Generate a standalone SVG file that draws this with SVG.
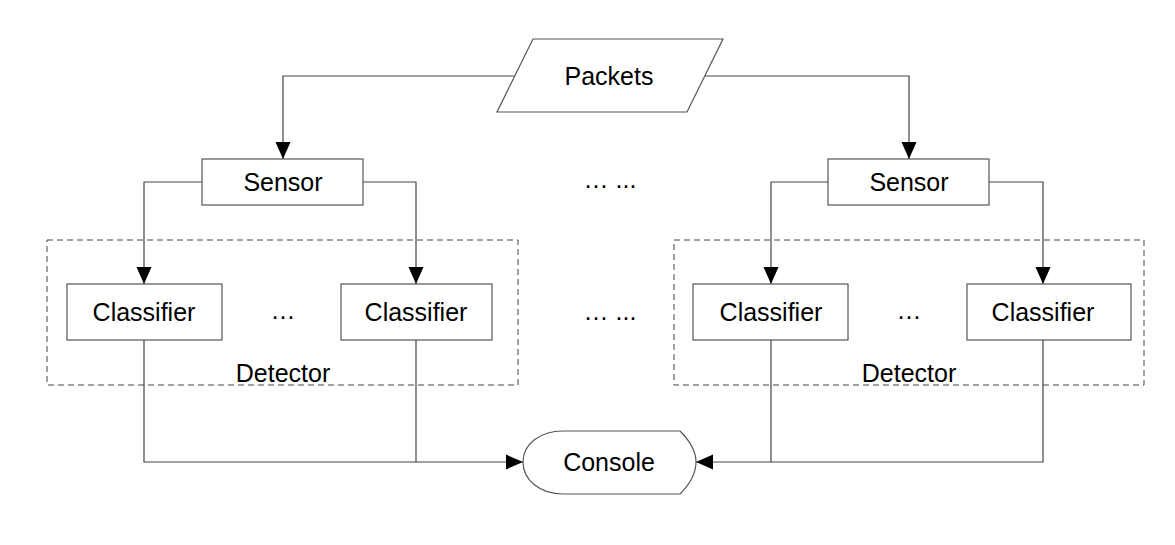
<svg xmlns="http://www.w3.org/2000/svg" width="1175" height="545" viewBox="0 0 1175 545">
<style>
.n{fill:#fff;stroke:#555;stroke-width:1.2}
.t{font-family:"Liberation Sans",Arial,sans-serif;font-size:25px;fill:#000;text-anchor:middle}
.c{fill:none;stroke:#444;stroke-width:1.2}
.d{fill:none;stroke:#444;stroke-width:1;stroke-dasharray:6 4}
</style>
<defs>
<marker id="ah" markerWidth="17" markerHeight="16" refX="17" refY="8" orient="auto" markerUnits="userSpaceOnUse">
<path d="M0,0.5 L17,8 L0,15.5 Z" fill="#000"/>
</marker>
</defs>
<rect width="1175" height="545" fill="#fff"/>
<g id="detector-left"><rect class="d" x="47" y="240" width="471" height="145"/><text class="t" x="283" y="382">Detector</text></g>
<g id="detector-right"><rect class="d" x="674" y="240" width="470" height="145"/><text class="t" x="909" y="382">Detector</text></g>
<g id="connectors">
<path class="c" d="M515,76 H283 V159" marker-end="url(#ah)"/>
<path class="c" d="M705,76 H909 V159" marker-end="url(#ah)"/>
<path class="c" d="M202,182 H144 V284" marker-end="url(#ah)"/>
<path class="c" d="M363,182 H416 V284" marker-end="url(#ah)"/>
<path class="c" d="M828,182 H771 V284" marker-end="url(#ah)"/>
<path class="c" d="M989,182 H1043 V284" marker-end="url(#ah)"/>
<path class="c" d="M144,340 V462 H523" marker-end="url(#ah)"/>
<path class="c" d="M416,340 V462"/>
<path class="c" d="M1043,340 V462 H696" marker-end="url(#ah)"/>
<path class="c" d="M771,340 V462"/>
</g>
<g id="packets"><polygon class="n" points="533,39 723,39 687,112 497,112"/><text class="t" x="609" y="85">Packets</text></g>
<g id="sensor-left"><rect class="n" x="202" y="159" width="161" height="46"/><text class="t" x="283" y="191">Sensor</text></g>
<g id="sensor-right"><rect class="n" x="828" y="159" width="161" height="46"/><text class="t" x="909" y="191">Sensor</text></g>
<g id="classifier-1"><rect class="n" x="67" y="284" width="155" height="56"/><text class="t" x="144" y="321">Classifier</text></g>
<g id="classifier-2"><rect class="n" x="341" y="284" width="151" height="56"/><text class="t" x="416" y="321">Classifier</text></g>
<g id="classifier-3"><rect class="n" x="693" y="284" width="155" height="56"/><text class="t" x="771" y="321">Classifier</text></g>
<g id="classifier-4"><rect class="n" x="967" y="284" width="164" height="56"/><text class="t" x="1043" y="321">Classifier</text></g>
<g id="ellipses">
<text class="t" x="283" y="319">…</text>
<text class="t" x="909" y="319">…</text>
<text class="t" x="610" y="188">… ...</text>
<text class="t" x="610" y="320">… ...</text>
</g>
<g id="console"><path class="n" d="M563,431 H680 C690,441 696,452 696,462 C696,472 690,484 680,494 H563 C540,494 523,480 523,462 C523,444 540,431 563,431 Z"/><text class="t" x="609" y="471">Console</text></g>
</svg>
